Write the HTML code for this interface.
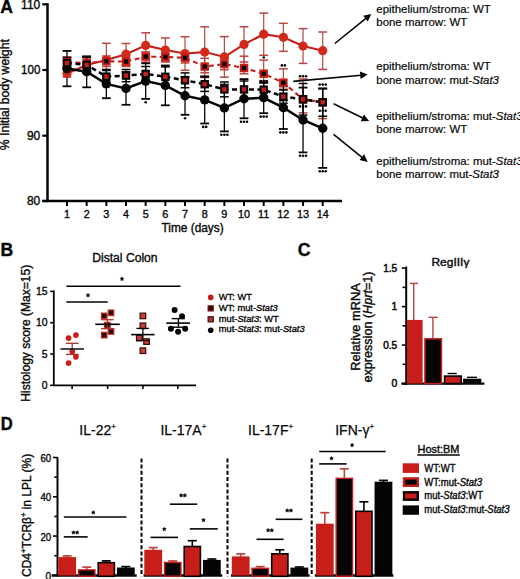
<!DOCTYPE html>
<html><head><meta charset="utf-8"><style>
html,body{margin:0;padding:0;background:#fff;}
svg{display:block;}
text{font-family:"Liberation Sans", sans-serif; stroke:#111; stroke-width:0.38px;}
.lt text{stroke-width:0.2px;}
</style></head><body>
<svg width="520" height="579" viewBox="0 0 520 579">
<rect width="520" height="579" fill="#fff"/>
<text x="0.3" y="12.8" font-size="17.6" text-anchor="start" font-weight="bold" fill="#050505" >A</text>
<line x1="47.5" y1="3.2" x2="47.5" y2="202" stroke="#050505" stroke-width="2.5" />
<line x1="42.3" y1="201" x2="342" y2="201" stroke="#050505" stroke-width="2.4" />
<line x1="42.3" y1="4.3" x2="47.5" y2="4.3" stroke="#050505" stroke-width="2.2" />
<text x="40.3" y="8.7" font-size="12.2" text-anchor="end" font-weight="normal" fill="#050505" textLength="19.2" lengthAdjust="spacingAndGlyphs" >110</text>
<line x1="42.3" y1="70" x2="47.5" y2="70" stroke="#050505" stroke-width="2.2" />
<text x="40.3" y="74.4" font-size="12.2" text-anchor="end" font-weight="normal" fill="#050505" textLength="19.2" lengthAdjust="spacingAndGlyphs" >100</text>
<line x1="42.3" y1="135.7" x2="47.5" y2="135.7" stroke="#050505" stroke-width="2.2" />
<text x="40.3" y="140.1" font-size="12.2" text-anchor="end" font-weight="normal" fill="#050505" textLength="13.4" lengthAdjust="spacingAndGlyphs" >90</text>
<line x1="42.3" y1="201" x2="47.5" y2="201" stroke="#050505" stroke-width="2.2" />
<text x="40.3" y="205.4" font-size="12.2" text-anchor="end" font-weight="normal" fill="#050505" textLength="13.4" lengthAdjust="spacingAndGlyphs" >80</text>
<line x1="67.0" y1="201" x2="67.0" y2="206" stroke="#050505" stroke-width="2" />
<text x="67.0" y="217.8" font-size="10.8" text-anchor="middle" font-weight="normal" fill="#050505" >1</text>
<line x1="86.67" y1="201" x2="86.67" y2="206" stroke="#050505" stroke-width="2" />
<text x="86.67" y="217.8" font-size="10.8" text-anchor="middle" font-weight="normal" fill="#050505" >2</text>
<line x1="106.34" y1="201" x2="106.34" y2="206" stroke="#050505" stroke-width="2" />
<text x="106.34" y="217.8" font-size="10.8" text-anchor="middle" font-weight="normal" fill="#050505" >3</text>
<line x1="126.01" y1="201" x2="126.01" y2="206" stroke="#050505" stroke-width="2" />
<text x="126.01" y="217.8" font-size="10.8" text-anchor="middle" font-weight="normal" fill="#050505" >4</text>
<line x1="145.68" y1="201" x2="145.68" y2="206" stroke="#050505" stroke-width="2" />
<text x="145.68" y="217.8" font-size="10.8" text-anchor="middle" font-weight="normal" fill="#050505" >5</text>
<line x1="165.35000000000002" y1="201" x2="165.35000000000002" y2="206" stroke="#050505" stroke-width="2" />
<text x="165.35000000000002" y="217.8" font-size="10.8" text-anchor="middle" font-weight="normal" fill="#050505" >6</text>
<line x1="185.02" y1="201" x2="185.02" y2="206" stroke="#050505" stroke-width="2" />
<text x="185.02" y="217.8" font-size="10.8" text-anchor="middle" font-weight="normal" fill="#050505" >7</text>
<line x1="204.69" y1="201" x2="204.69" y2="206" stroke="#050505" stroke-width="2" />
<text x="204.69" y="217.8" font-size="10.8" text-anchor="middle" font-weight="normal" fill="#050505" >8</text>
<line x1="224.36" y1="201" x2="224.36" y2="206" stroke="#050505" stroke-width="2" />
<text x="224.36" y="217.8" font-size="10.8" text-anchor="middle" font-weight="normal" fill="#050505" >9</text>
<line x1="244.03000000000003" y1="201" x2="244.03000000000003" y2="206" stroke="#050505" stroke-width="2" />
<text x="244.03000000000003" y="217.8" font-size="10.8" text-anchor="middle" font-weight="normal" fill="#050505" >10</text>
<line x1="263.70000000000005" y1="201" x2="263.70000000000005" y2="206" stroke="#050505" stroke-width="2" />
<text x="263.70000000000005" y="217.8" font-size="10.8" text-anchor="middle" font-weight="normal" fill="#050505" >11</text>
<line x1="283.37" y1="201" x2="283.37" y2="206" stroke="#050505" stroke-width="2" />
<text x="283.37" y="217.8" font-size="10.8" text-anchor="middle" font-weight="normal" fill="#050505" >12</text>
<line x1="303.04" y1="201" x2="303.04" y2="206" stroke="#050505" stroke-width="2" />
<text x="303.04" y="217.8" font-size="10.8" text-anchor="middle" font-weight="normal" fill="#050505" >13</text>
<line x1="322.71000000000004" y1="201" x2="322.71000000000004" y2="206" stroke="#050505" stroke-width="2" />
<text x="322.71000000000004" y="217.8" font-size="10.8" text-anchor="middle" font-weight="normal" fill="#050505" >14</text>
<text x="192.6" y="231.9" font-size="12.2" text-anchor="middle" font-weight="normal" fill="#050505" textLength="62.2" lengthAdjust="spacingAndGlyphs" >Time (days)</text>
<text transform="translate(9.4,94.7) rotate(-90)" font-size="12" text-anchor="middle" fill="#050505" textLength="111" lengthAdjust="spacingAndGlyphs">% Initial body weight</text>
<line x1="67.0" y1="70" x2="67.0" y2="77.0" stroke="#b8463f" stroke-width="1.2" />
<line x1="62.6" y1="70" x2="71.4" y2="70" stroke="#b8463f" stroke-width="1.5" />
<line x1="62.6" y1="77.0" x2="71.4" y2="77.0" stroke="#b8463f" stroke-width="1.5" />
<line x1="86.67" y1="57.2" x2="86.67" y2="72.8" stroke="#b8463f" stroke-width="1.2" />
<line x1="82.27" y1="57.2" x2="91.07000000000001" y2="57.2" stroke="#b8463f" stroke-width="1.5" />
<line x1="82.27" y1="72.8" x2="91.07000000000001" y2="72.8" stroke="#b8463f" stroke-width="1.5" />
<line x1="106.34" y1="43.3" x2="106.34" y2="76.7" stroke="#b8463f" stroke-width="1.2" />
<line x1="101.94" y1="43.3" x2="110.74000000000001" y2="43.3" stroke="#b8463f" stroke-width="1.5" />
<line x1="101.94" y1="76.7" x2="110.74000000000001" y2="76.7" stroke="#b8463f" stroke-width="1.5" />
<line x1="126.01" y1="43.5" x2="126.01" y2="64.9" stroke="#b8463f" stroke-width="1.2" />
<line x1="121.61" y1="43.5" x2="130.41" y2="43.5" stroke="#b8463f" stroke-width="1.5" />
<line x1="121.61" y1="64.9" x2="130.41" y2="64.9" stroke="#b8463f" stroke-width="1.5" />
<line x1="145.68" y1="32.8" x2="145.68" y2="58.0" stroke="#b8463f" stroke-width="1.2" />
<line x1="141.28" y1="32.8" x2="150.08" y2="32.8" stroke="#b8463f" stroke-width="1.5" />
<line x1="141.28" y1="58.0" x2="150.08" y2="58.0" stroke="#b8463f" stroke-width="1.5" />
<line x1="165.35000000000002" y1="38" x2="165.35000000000002" y2="62" stroke="#b8463f" stroke-width="1.2" />
<line x1="160.95000000000002" y1="38" x2="169.75000000000003" y2="38" stroke="#b8463f" stroke-width="1.5" />
<line x1="160.95000000000002" y1="62" x2="169.75000000000003" y2="62" stroke="#b8463f" stroke-width="1.5" />
<line x1="185.02" y1="36.7" x2="185.02" y2="70.3" stroke="#b8463f" stroke-width="1.2" />
<line x1="180.62" y1="36.7" x2="189.42000000000002" y2="36.7" stroke="#b8463f" stroke-width="1.5" />
<line x1="180.62" y1="70.3" x2="189.42000000000002" y2="70.3" stroke="#b8463f" stroke-width="1.5" />
<line x1="204.69" y1="26.8" x2="204.69" y2="77.4" stroke="#b8463f" stroke-width="1.2" />
<line x1="200.29" y1="26.8" x2="209.09" y2="26.8" stroke="#b8463f" stroke-width="1.5" />
<line x1="200.29" y1="77.4" x2="209.09" y2="77.4" stroke="#b8463f" stroke-width="1.5" />
<line x1="224.36" y1="36.6" x2="224.36" y2="77.19999999999999" stroke="#b8463f" stroke-width="1.2" />
<line x1="219.96" y1="36.6" x2="228.76000000000002" y2="36.6" stroke="#b8463f" stroke-width="1.5" />
<line x1="219.96" y1="77.19999999999999" x2="228.76000000000002" y2="77.19999999999999" stroke="#b8463f" stroke-width="1.5" />
<line x1="244.03000000000003" y1="26.8" x2="244.03000000000003" y2="62.0" stroke="#b8463f" stroke-width="1.2" />
<line x1="239.63000000000002" y1="26.8" x2="248.43000000000004" y2="26.8" stroke="#b8463f" stroke-width="1.5" />
<line x1="239.63000000000002" y1="62.0" x2="248.43000000000004" y2="62.0" stroke="#b8463f" stroke-width="1.5" />
<line x1="263.70000000000005" y1="13.1" x2="263.70000000000005" y2="55.300000000000004" stroke="#b8463f" stroke-width="1.2" />
<line x1="259.30000000000007" y1="13.1" x2="268.1" y2="13.1" stroke="#b8463f" stroke-width="1.5" />
<line x1="259.30000000000007" y1="55.300000000000004" x2="268.1" y2="55.300000000000004" stroke="#b8463f" stroke-width="1.5" />
<line x1="283.37" y1="23.3" x2="283.37" y2="51.3" stroke="#b8463f" stroke-width="1.2" />
<line x1="278.97" y1="23.3" x2="287.77" y2="23.3" stroke="#b8463f" stroke-width="1.5" />
<line x1="278.97" y1="51.3" x2="287.77" y2="51.3" stroke="#b8463f" stroke-width="1.5" />
<line x1="303.04" y1="28.6" x2="303.04" y2="63.4" stroke="#b8463f" stroke-width="1.2" />
<line x1="298.64000000000004" y1="28.6" x2="307.44" y2="28.6" stroke="#b8463f" stroke-width="1.5" />
<line x1="298.64000000000004" y1="63.4" x2="307.44" y2="63.4" stroke="#b8463f" stroke-width="1.5" />
<line x1="322.71000000000004" y1="32" x2="322.71000000000004" y2="69.4" stroke="#b8463f" stroke-width="1.2" />
<line x1="318.31000000000006" y1="32" x2="327.11" y2="32" stroke="#b8463f" stroke-width="1.5" />
<line x1="318.31000000000006" y1="69.4" x2="327.11" y2="69.4" stroke="#b8463f" stroke-width="1.5" />
<line x1="67.0" y1="57" x2="67.0" y2="67" stroke="#b8463f" stroke-width="1.2" />
<line x1="62.6" y1="57" x2="71.4" y2="57" stroke="#b8463f" stroke-width="1.5" />
<line x1="62.6" y1="67" x2="71.4" y2="67" stroke="#b8463f" stroke-width="1.5" />
<line x1="86.67" y1="58" x2="86.67" y2="68" stroke="#b8463f" stroke-width="1.2" />
<line x1="82.27" y1="58" x2="91.07000000000001" y2="58" stroke="#b8463f" stroke-width="1.5" />
<line x1="82.27" y1="68" x2="91.07000000000001" y2="68" stroke="#b8463f" stroke-width="1.5" />
<line x1="106.34" y1="56" x2="106.34" y2="66.5" stroke="#b8463f" stroke-width="1.2" />
<line x1="101.94" y1="56" x2="110.74000000000001" y2="56" stroke="#b8463f" stroke-width="1.5" />
<line x1="101.94" y1="66.5" x2="110.74000000000001" y2="66.5" stroke="#b8463f" stroke-width="1.5" />
<line x1="126.01" y1="57" x2="126.01" y2="66.5" stroke="#b8463f" stroke-width="1.2" />
<line x1="121.61" y1="57" x2="130.41" y2="57" stroke="#b8463f" stroke-width="1.5" />
<line x1="121.61" y1="66.5" x2="130.41" y2="66.5" stroke="#b8463f" stroke-width="1.5" />
<line x1="145.68" y1="51.8" x2="145.68" y2="62.1" stroke="#b8463f" stroke-width="1.2" />
<line x1="141.28" y1="51.8" x2="150.08" y2="51.8" stroke="#b8463f" stroke-width="1.5" />
<line x1="141.28" y1="62.1" x2="150.08" y2="62.1" stroke="#b8463f" stroke-width="1.5" />
<line x1="165.35000000000002" y1="53.5" x2="165.35000000000002" y2="61.3" stroke="#b8463f" stroke-width="1.2" />
<line x1="160.95000000000002" y1="53.5" x2="169.75000000000003" y2="53.5" stroke="#b8463f" stroke-width="1.5" />
<line x1="160.95000000000002" y1="61.3" x2="169.75000000000003" y2="61.3" stroke="#b8463f" stroke-width="1.5" />
<line x1="185.02" y1="53" x2="185.02" y2="63" stroke="#b8463f" stroke-width="1.2" />
<line x1="180.62" y1="53" x2="189.42000000000002" y2="53" stroke="#b8463f" stroke-width="1.5" />
<line x1="180.62" y1="63" x2="189.42000000000002" y2="63" stroke="#b8463f" stroke-width="1.5" />
<line x1="204.69" y1="58.3" x2="204.69" y2="72.8" stroke="#b8463f" stroke-width="1.2" />
<line x1="200.29" y1="58.3" x2="209.09" y2="58.3" stroke="#b8463f" stroke-width="1.5" />
<line x1="200.29" y1="72.8" x2="209.09" y2="72.8" stroke="#b8463f" stroke-width="1.5" />
<line x1="224.36" y1="58.5" x2="224.36" y2="69.7" stroke="#b8463f" stroke-width="1.2" />
<line x1="219.96" y1="58.5" x2="228.76000000000002" y2="58.5" stroke="#b8463f" stroke-width="1.5" />
<line x1="219.96" y1="69.7" x2="228.76000000000002" y2="69.7" stroke="#b8463f" stroke-width="1.5" />
<line x1="244.03000000000003" y1="56.2" x2="244.03000000000003" y2="73.8" stroke="#b8463f" stroke-width="1.2" />
<line x1="239.63000000000002" y1="56.2" x2="248.43000000000004" y2="56.2" stroke="#b8463f" stroke-width="1.5" />
<line x1="239.63000000000002" y1="73.8" x2="248.43000000000004" y2="73.8" stroke="#b8463f" stroke-width="1.5" />
<line x1="263.70000000000005" y1="60.1" x2="263.70000000000005" y2="81" stroke="#b8463f" stroke-width="1.2" />
<line x1="259.30000000000007" y1="60.1" x2="268.1" y2="60.1" stroke="#b8463f" stroke-width="1.5" />
<line x1="259.30000000000007" y1="81" x2="268.1" y2="81" stroke="#b8463f" stroke-width="1.5" />
<line x1="283.37" y1="68.8" x2="283.37" y2="89.2" stroke="#b8463f" stroke-width="1.2" />
<line x1="278.97" y1="68.8" x2="287.77" y2="68.8" stroke="#b8463f" stroke-width="1.5" />
<line x1="278.97" y1="89.2" x2="287.77" y2="89.2" stroke="#b8463f" stroke-width="1.5" />
<line x1="303.04" y1="79" x2="303.04" y2="112.9" stroke="#b8463f" stroke-width="1.2" />
<line x1="298.64000000000004" y1="79" x2="307.44" y2="79" stroke="#b8463f" stroke-width="1.5" />
<line x1="298.64000000000004" y1="112.9" x2="307.44" y2="112.9" stroke="#b8463f" stroke-width="1.5" />
<line x1="322.71000000000004" y1="88.4" x2="322.71000000000004" y2="118.6" stroke="#b8463f" stroke-width="1.2" />
<line x1="318.31000000000006" y1="88.4" x2="327.11" y2="88.4" stroke="#b8463f" stroke-width="1.5" />
<line x1="318.31000000000006" y1="118.6" x2="327.11" y2="118.6" stroke="#b8463f" stroke-width="1.5" />
<line x1="67.0" y1="57.4" x2="67.0" y2="68.6" stroke="#050505" stroke-width="1.2" />
<line x1="62.6" y1="57.4" x2="71.4" y2="57.4" stroke="#050505" stroke-width="1.5" />
<line x1="62.6" y1="68.6" x2="71.4" y2="68.6" stroke="#050505" stroke-width="1.5" />
<line x1="86.67" y1="57" x2="86.67" y2="72.80000000000001" stroke="#050505" stroke-width="1.2" />
<line x1="82.27" y1="57" x2="91.07000000000001" y2="57" stroke="#050505" stroke-width="1.5" />
<line x1="82.27" y1="72.80000000000001" x2="91.07000000000001" y2="72.80000000000001" stroke="#050505" stroke-width="1.5" />
<line x1="106.34" y1="70.5" x2="106.34" y2="82.69999999999999" stroke="#050505" stroke-width="1.2" />
<line x1="101.94" y1="70.5" x2="110.74000000000001" y2="70.5" stroke="#050505" stroke-width="1.5" />
<line x1="101.94" y1="82.69999999999999" x2="110.74000000000001" y2="82.69999999999999" stroke="#050505" stroke-width="1.5" />
<line x1="126.01" y1="69.5" x2="126.01" y2="81.69999999999999" stroke="#050505" stroke-width="1.2" />
<line x1="121.61" y1="69.5" x2="130.41" y2="69.5" stroke="#050505" stroke-width="1.5" />
<line x1="121.61" y1="81.69999999999999" x2="130.41" y2="81.69999999999999" stroke="#050505" stroke-width="1.5" />
<line x1="145.68" y1="66.5" x2="145.68" y2="81.30000000000001" stroke="#050505" stroke-width="1.2" />
<line x1="141.28" y1="66.5" x2="150.08" y2="66.5" stroke="#050505" stroke-width="1.5" />
<line x1="141.28" y1="81.30000000000001" x2="150.08" y2="81.30000000000001" stroke="#050505" stroke-width="1.5" />
<line x1="165.35000000000002" y1="66.9" x2="165.35000000000002" y2="86.69999999999999" stroke="#050505" stroke-width="1.2" />
<line x1="160.95000000000002" y1="66.9" x2="169.75000000000003" y2="66.9" stroke="#050505" stroke-width="1.5" />
<line x1="160.95000000000002" y1="86.69999999999999" x2="169.75000000000003" y2="86.69999999999999" stroke="#050505" stroke-width="1.5" />
<line x1="185.02" y1="72.9" x2="185.02" y2="87.69999999999999" stroke="#050505" stroke-width="1.2" />
<line x1="180.62" y1="72.9" x2="189.42000000000002" y2="72.9" stroke="#050505" stroke-width="1.5" />
<line x1="180.62" y1="87.69999999999999" x2="189.42000000000002" y2="87.69999999999999" stroke="#050505" stroke-width="1.5" />
<line x1="204.69" y1="77" x2="204.69" y2="91.4" stroke="#050505" stroke-width="1.2" />
<line x1="200.29" y1="77" x2="209.09" y2="77" stroke="#050505" stroke-width="1.5" />
<line x1="200.29" y1="91.4" x2="209.09" y2="91.4" stroke="#050505" stroke-width="1.5" />
<line x1="224.36" y1="82" x2="224.36" y2="96.80000000000001" stroke="#050505" stroke-width="1.2" />
<line x1="219.96" y1="82" x2="228.76000000000002" y2="82" stroke="#050505" stroke-width="1.5" />
<line x1="219.96" y1="96.80000000000001" x2="228.76000000000002" y2="96.80000000000001" stroke="#050505" stroke-width="1.5" />
<line x1="244.03000000000003" y1="81" x2="244.03000000000003" y2="97.80000000000001" stroke="#050505" stroke-width="1.2" />
<line x1="239.63000000000002" y1="81" x2="248.43000000000004" y2="81" stroke="#050505" stroke-width="1.5" />
<line x1="239.63000000000002" y1="97.80000000000001" x2="248.43000000000004" y2="97.80000000000001" stroke="#050505" stroke-width="1.5" />
<line x1="263.70000000000005" y1="83" x2="263.70000000000005" y2="96.4" stroke="#050505" stroke-width="1.2" />
<line x1="259.30000000000007" y1="83" x2="268.1" y2="83" stroke="#050505" stroke-width="1.5" />
<line x1="259.30000000000007" y1="96.4" x2="268.1" y2="96.4" stroke="#050505" stroke-width="1.5" />
<line x1="283.37" y1="90" x2="283.37" y2="103.19999999999999" stroke="#050505" stroke-width="1.2" />
<line x1="278.97" y1="90" x2="287.77" y2="90" stroke="#050505" stroke-width="1.5" />
<line x1="278.97" y1="103.19999999999999" x2="287.77" y2="103.19999999999999" stroke="#050505" stroke-width="1.5" />
<line x1="303.04" y1="83.5" x2="303.04" y2="115.1" stroke="#050505" stroke-width="1.2" />
<line x1="298.64000000000004" y1="83.5" x2="307.44" y2="83.5" stroke="#050505" stroke-width="1.5" />
<line x1="298.64000000000004" y1="115.1" x2="307.44" y2="115.1" stroke="#050505" stroke-width="1.5" />
<line x1="322.71000000000004" y1="88.4" x2="322.71000000000004" y2="116.19999999999999" stroke="#050505" stroke-width="1.2" />
<line x1="318.31000000000006" y1="88.4" x2="327.11" y2="88.4" stroke="#050505" stroke-width="1.5" />
<line x1="318.31000000000006" y1="116.19999999999999" x2="327.11" y2="116.19999999999999" stroke="#050505" stroke-width="1.5" />
<line x1="67.0" y1="50.89999999999999" x2="67.0" y2="86.3" stroke="#050505" stroke-width="1.3" />
<line x1="62.6" y1="50.89999999999999" x2="71.4" y2="50.89999999999999" stroke="#050505" stroke-width="1.8" />
<line x1="62.6" y1="86.3" x2="71.4" y2="86.3" stroke="#050505" stroke-width="1.8" />
<line x1="86.67" y1="56.3" x2="86.67" y2="87.3" stroke="#050505" stroke-width="1.3" />
<line x1="82.27" y1="56.3" x2="91.07000000000001" y2="56.3" stroke="#050505" stroke-width="1.8" />
<line x1="82.27" y1="87.3" x2="91.07000000000001" y2="87.3" stroke="#050505" stroke-width="1.8" />
<line x1="106.34" y1="69.60000000000001" x2="106.34" y2="98.2" stroke="#050505" stroke-width="1.3" />
<line x1="101.94" y1="69.60000000000001" x2="110.74000000000001" y2="69.60000000000001" stroke="#050505" stroke-width="1.8" />
<line x1="101.94" y1="98.2" x2="110.74000000000001" y2="98.2" stroke="#050505" stroke-width="1.8" />
<line x1="126.01" y1="72.00000000000001" x2="126.01" y2="104.8" stroke="#050505" stroke-width="1.3" />
<line x1="121.61" y1="72.00000000000001" x2="130.41" y2="72.00000000000001" stroke="#050505" stroke-width="1.8" />
<line x1="121.61" y1="104.8" x2="130.41" y2="104.8" stroke="#050505" stroke-width="1.8" />
<line x1="145.68" y1="63.29999999999998" x2="145.68" y2="98.9" stroke="#050505" stroke-width="1.3" />
<line x1="141.28" y1="63.29999999999998" x2="150.08" y2="63.29999999999998" stroke="#050505" stroke-width="1.8" />
<line x1="141.28" y1="98.9" x2="150.08" y2="98.9" stroke="#050505" stroke-width="1.8" />
<line x1="165.35000000000002" y1="65.50000000000001" x2="165.35000000000002" y2="105.3" stroke="#050505" stroke-width="1.3" />
<line x1="160.95000000000002" y1="65.50000000000001" x2="169.75000000000003" y2="65.50000000000001" stroke="#050505" stroke-width="1.8" />
<line x1="160.95000000000002" y1="105.3" x2="169.75000000000003" y2="105.3" stroke="#050505" stroke-width="1.8" />
<line x1="185.02" y1="76.8" x2="185.02" y2="114.8" stroke="#050505" stroke-width="1.3" />
<line x1="180.62" y1="76.8" x2="189.42000000000002" y2="76.8" stroke="#050505" stroke-width="1.8" />
<line x1="180.62" y1="114.8" x2="189.42000000000002" y2="114.8" stroke="#050505" stroke-width="1.8" />
<line x1="204.69" y1="76.30000000000001" x2="204.69" y2="123.5" stroke="#050505" stroke-width="1.3" />
<line x1="200.29" y1="76.30000000000001" x2="209.09" y2="76.30000000000001" stroke="#050505" stroke-width="1.8" />
<line x1="200.29" y1="123.5" x2="209.09" y2="123.5" stroke="#050505" stroke-width="1.8" />
<line x1="224.36" y1="84.6" x2="224.36" y2="131.4" stroke="#050505" stroke-width="1.3" />
<line x1="219.96" y1="84.6" x2="228.76000000000002" y2="84.6" stroke="#050505" stroke-width="1.8" />
<line x1="219.96" y1="131.4" x2="228.76000000000002" y2="131.4" stroke="#050505" stroke-width="1.8" />
<line x1="244.03000000000003" y1="79.10000000000001" x2="244.03000000000003" y2="118.3" stroke="#050505" stroke-width="1.3" />
<line x1="239.63000000000002" y1="79.10000000000001" x2="248.43000000000004" y2="79.10000000000001" stroke="#050505" stroke-width="1.8" />
<line x1="239.63000000000002" y1="118.3" x2="248.43000000000004" y2="118.3" stroke="#050505" stroke-width="1.8" />
<line x1="263.70000000000005" y1="82.39999999999999" x2="263.70000000000005" y2="113.2" stroke="#050505" stroke-width="1.3" />
<line x1="259.30000000000007" y1="82.39999999999999" x2="268.1" y2="82.39999999999999" stroke="#050505" stroke-width="1.8" />
<line x1="259.30000000000007" y1="113.2" x2="268.1" y2="113.2" stroke="#050505" stroke-width="1.8" />
<line x1="283.37" y1="86.4" x2="283.37" y2="129" stroke="#050505" stroke-width="1.3" />
<line x1="278.97" y1="86.4" x2="287.77" y2="86.4" stroke="#050505" stroke-width="1.8" />
<line x1="278.97" y1="129" x2="287.77" y2="129" stroke="#050505" stroke-width="1.8" />
<line x1="303.04" y1="87.6" x2="303.04" y2="152.4" stroke="#050505" stroke-width="1.3" />
<line x1="298.64000000000004" y1="87.6" x2="307.44" y2="87.6" stroke="#050505" stroke-width="1.8" />
<line x1="298.64000000000004" y1="152.4" x2="307.44" y2="152.4" stroke="#050505" stroke-width="1.8" />
<line x1="322.71000000000004" y1="88.70000000000002" x2="322.71000000000004" y2="167.9" stroke="#050505" stroke-width="1.3" />
<line x1="318.31000000000006" y1="88.70000000000002" x2="327.11" y2="88.70000000000002" stroke="#050505" stroke-width="1.8" />
<line x1="318.31000000000006" y1="167.9" x2="327.11" y2="167.9" stroke="#050505" stroke-width="1.8" />
<polyline points="67.0,73.5 86.7,65.0 106.3,60.0 126.0,54.2 145.7,45.4 165.4,50.0 185.0,53.5 204.7,52.1 224.4,56.9 244.0,44.4 263.7,34.2 283.4,37.3 303.0,46.0 322.7,50.7" fill="none" stroke="#c42018" stroke-width="2.1"/>
<polyline points="67.0,62.0 86.7,63.0 106.3,61.3 126.0,61.6 145.7,56.6 165.4,57.0 185.0,57.8 204.7,66.6 224.4,64.1 244.0,68.0 263.7,73.7 283.4,82.7 303.0,99.3 322.7,102.3" fill="none" stroke="#c42018" stroke-width="2.1" stroke-dasharray="5,3.5"/>
<polyline points="67.0,68.6 86.7,71.8 106.3,83.9 126.0,88.4 145.7,81.1 165.4,85.4 185.0,95.8 204.7,99.9 224.4,108.0 244.0,98.7 263.7,97.8 283.4,107.7 303.0,120.0 322.7,128.3" fill="none" stroke="#050505" stroke-width="2.5"/>
<polyline points="67.0,63.0 86.7,64.9 106.3,76.6 126.0,75.6 145.7,73.9 165.4,76.8 185.0,80.3 204.7,84.2 224.4,89.4 244.0,89.4 263.7,89.7 283.4,96.6 303.0,99.3 322.7,102.3" fill="none" stroke="#050505" stroke-width="2.5" stroke-dasharray="5,3.5"/>
<circle cx="67.0" cy="73.5" r="4.6" fill="#d02a1a"/>
<circle cx="86.67" cy="65" r="4.6" fill="#d02a1a"/>
<circle cx="106.34" cy="60" r="4.6" fill="#d02a1a"/>
<circle cx="126.01" cy="54.2" r="4.6" fill="#d02a1a"/>
<circle cx="145.68" cy="45.4" r="4.6" fill="#d02a1a"/>
<circle cx="165.35000000000002" cy="50" r="4.6" fill="#d02a1a"/>
<circle cx="185.02" cy="53.5" r="4.6" fill="#d02a1a"/>
<circle cx="204.69" cy="52.1" r="4.6" fill="#d02a1a"/>
<circle cx="224.36" cy="56.9" r="4.6" fill="#d02a1a"/>
<circle cx="244.03000000000003" cy="44.4" r="4.6" fill="#d02a1a"/>
<circle cx="263.70000000000005" cy="34.2" r="4.6" fill="#d02a1a"/>
<circle cx="283.37" cy="37.3" r="4.6" fill="#d02a1a"/>
<circle cx="303.04" cy="46" r="4.6" fill="#d02a1a"/>
<circle cx="322.71000000000004" cy="50.7" r="4.6" fill="#d02a1a"/>
<rect x="63.8" y="58.8" width="6.4" height="6.4" fill="#050505" stroke="#c81e1a" stroke-width="2.1"/>
<rect x="83.47" y="59.8" width="6.4" height="6.4" fill="#050505" stroke="#c81e1a" stroke-width="2.1"/>
<rect x="103.14" y="58.099999999999994" width="6.4" height="6.4" fill="#050505" stroke="#c81e1a" stroke-width="2.1"/>
<rect x="122.81" y="58.4" width="6.4" height="6.4" fill="#050505" stroke="#c81e1a" stroke-width="2.1"/>
<rect x="142.48000000000002" y="53.4" width="6.4" height="6.4" fill="#050505" stroke="#c81e1a" stroke-width="2.1"/>
<rect x="162.15000000000003" y="53.8" width="6.4" height="6.4" fill="#050505" stroke="#c81e1a" stroke-width="2.1"/>
<rect x="181.82000000000002" y="54.599999999999994" width="6.4" height="6.4" fill="#050505" stroke="#c81e1a" stroke-width="2.1"/>
<rect x="201.49" y="63.39999999999999" width="6.4" height="6.4" fill="#050505" stroke="#c81e1a" stroke-width="2.1"/>
<rect x="221.16000000000003" y="60.89999999999999" width="6.4" height="6.4" fill="#050505" stroke="#c81e1a" stroke-width="2.1"/>
<rect x="240.83000000000004" y="64.8" width="6.4" height="6.4" fill="#050505" stroke="#c81e1a" stroke-width="2.1"/>
<rect x="260.50000000000006" y="70.5" width="6.4" height="6.4" fill="#050505" stroke="#c81e1a" stroke-width="2.1"/>
<rect x="280.17" y="79.5" width="6.4" height="6.4" fill="#050505" stroke="#c81e1a" stroke-width="2.1"/>
<rect x="299.84000000000003" y="96.1" width="6.4" height="6.4" fill="#050505" stroke="#c81e1a" stroke-width="2.1"/>
<rect x="319.51000000000005" y="99.1" width="6.4" height="6.4" fill="#050505" stroke="#c81e1a" stroke-width="2.1"/>
<circle cx="67.0" cy="68.6" r="4.7" fill="#050505"/>
<circle cx="86.67" cy="71.8" r="4.7" fill="#050505"/>
<circle cx="106.34" cy="83.9" r="4.7" fill="#050505"/>
<circle cx="126.01" cy="88.4" r="4.7" fill="#050505"/>
<circle cx="145.68" cy="81.1" r="4.7" fill="#050505"/>
<circle cx="165.35000000000002" cy="85.4" r="4.7" fill="#050505"/>
<circle cx="185.02" cy="95.8" r="4.7" fill="#050505"/>
<circle cx="204.69" cy="99.9" r="4.7" fill="#050505"/>
<circle cx="224.36" cy="108" r="4.7" fill="#050505"/>
<circle cx="244.03000000000003" cy="98.7" r="4.7" fill="#050505"/>
<circle cx="263.70000000000005" cy="97.8" r="4.7" fill="#050505"/>
<circle cx="283.37" cy="107.7" r="4.7" fill="#050505"/>
<circle cx="303.04" cy="120" r="4.7" fill="#050505"/>
<circle cx="322.71000000000004" cy="128.3" r="4.7" fill="#050505"/>
<rect x="63.8" y="59.8" width="6.4" height="6.4" fill="#c81e1a" stroke="#050505" stroke-width="2.0"/>
<rect x="83.47" y="61.7" width="6.4" height="6.4" fill="#c81e1a" stroke="#050505" stroke-width="2.0"/>
<rect x="103.14" y="73.39999999999999" width="6.4" height="6.4" fill="#c81e1a" stroke="#050505" stroke-width="2.0"/>
<rect x="122.81" y="72.39999999999999" width="6.4" height="6.4" fill="#c81e1a" stroke="#050505" stroke-width="2.0"/>
<rect x="142.48000000000002" y="70.7" width="6.4" height="6.4" fill="#c81e1a" stroke="#050505" stroke-width="2.0"/>
<rect x="162.15000000000003" y="73.6" width="6.4" height="6.4" fill="#c81e1a" stroke="#050505" stroke-width="2.0"/>
<rect x="181.82000000000002" y="77.1" width="6.4" height="6.4" fill="#c81e1a" stroke="#050505" stroke-width="2.0"/>
<rect x="201.49" y="81.0" width="6.4" height="6.4" fill="#c81e1a" stroke="#050505" stroke-width="2.0"/>
<rect x="221.16000000000003" y="86.2" width="6.4" height="6.4" fill="#c81e1a" stroke="#050505" stroke-width="2.0"/>
<rect x="240.83000000000004" y="86.2" width="6.4" height="6.4" fill="#c81e1a" stroke="#050505" stroke-width="2.0"/>
<rect x="260.50000000000006" y="86.5" width="6.4" height="6.4" fill="#c81e1a" stroke="#050505" stroke-width="2.0"/>
<rect x="280.17" y="93.39999999999999" width="6.4" height="6.4" fill="#c81e1a" stroke="#050505" stroke-width="2.0"/>
<rect x="299.84000000000003" y="96.1" width="6.4" height="6.4" fill="#c81e1a" stroke="#050505" stroke-width="2.0"/>
<rect x="319.51000000000005" y="99.1" width="6.4" height="6.4" fill="#c81e1a" stroke="#050505" stroke-width="2.0"/>
<circle cx="145.68" cy="102.30" r="1.3" fill="#050505"/>
<circle cx="185.02" cy="118.20" r="1.3" fill="#050505"/>
<circle cx="203.19" cy="126.90" r="1.3" fill="#050505"/>
<circle cx="206.19" cy="126.90" r="1.3" fill="#050505"/>
<circle cx="221.36" cy="134.80" r="1.3" fill="#050505"/>
<circle cx="224.36" cy="134.80" r="1.3" fill="#050505"/>
<circle cx="227.36" cy="134.80" r="1.3" fill="#050505"/>
<circle cx="241.03" cy="121.70" r="1.3" fill="#050505"/>
<circle cx="244.03" cy="121.70" r="1.3" fill="#050505"/>
<circle cx="247.03" cy="121.70" r="1.3" fill="#050505"/>
<circle cx="260.70" cy="116.60" r="1.3" fill="#050505"/>
<circle cx="263.70" cy="116.60" r="1.3" fill="#050505"/>
<circle cx="266.70" cy="116.60" r="1.3" fill="#050505"/>
<circle cx="280.37" cy="132.40" r="1.3" fill="#050505"/>
<circle cx="283.37" cy="132.40" r="1.3" fill="#050505"/>
<circle cx="286.37" cy="132.40" r="1.3" fill="#050505"/>
<circle cx="300.04" cy="155.80" r="1.3" fill="#050505"/>
<circle cx="303.04" cy="155.80" r="1.3" fill="#050505"/>
<circle cx="306.04" cy="155.80" r="1.3" fill="#050505"/>
<circle cx="319.71" cy="171.30" r="1.3" fill="#050505"/>
<circle cx="322.71" cy="171.30" r="1.3" fill="#050505"/>
<circle cx="325.71" cy="171.30" r="1.3" fill="#050505"/>
<circle cx="263.70" cy="57.50" r="1.3" fill="#050505"/>
<circle cx="281.87" cy="65.40" r="1.3" fill="#050505"/>
<circle cx="284.87" cy="65.40" r="1.3" fill="#050505"/>
<circle cx="300.04" cy="76.20" r="1.3" fill="#050505"/>
<circle cx="303.04" cy="76.20" r="1.3" fill="#050505"/>
<circle cx="306.04" cy="76.20" r="1.3" fill="#050505"/>
<circle cx="319.71" cy="84.60" r="1.3" fill="#050505"/>
<circle cx="322.71" cy="84.60" r="1.3" fill="#050505"/>
<circle cx="325.71" cy="84.60" r="1.3" fill="#050505"/>
<circle cx="260.70" cy="81.00" r="1.3" fill="#050505"/>
<circle cx="263.70" cy="81.00" r="1.3" fill="#050505"/>
<circle cx="266.70" cy="81.00" r="1.3" fill="#050505"/>
<circle cx="280.37" cy="100.50" r="1.3" fill="#050505"/>
<circle cx="283.37" cy="100.50" r="1.3" fill="#050505"/>
<circle cx="286.37" cy="100.50" r="1.3" fill="#050505"/>
<circle cx="300.04" cy="106.40" r="1.3" fill="#050505"/>
<circle cx="303.04" cy="106.40" r="1.3" fill="#050505"/>
<circle cx="306.04" cy="106.40" r="1.3" fill="#050505"/>
<circle cx="319.71" cy="110.80" r="1.3" fill="#050505"/>
<circle cx="322.71" cy="110.80" r="1.3" fill="#050505"/>
<circle cx="325.71" cy="110.80" r="1.3" fill="#050505"/>
<line x1="334.8" y1="43.5" x2="366.244684527258" y2="18.085802916325704" stroke="#050505" stroke-width="1.6" />
<polygon points="371.3,14 367.79,21.59 363.14,15.84" fill="#050505"/>
<line x1="293.3" y1="81.4" x2="361.2269801740461" y2="75.19162009161944" stroke="#050505" stroke-width="1.6" />
<polygon points="367.7,74.6 360.57,78.97 359.89,71.60" fill="#050505"/>
<line x1="333.6" y1="103.8" x2="363.25689822966666" y2="118.25251660206291" stroke="#050505" stroke-width="1.6" />
<polygon points="369.1,121.1 360.74,121.14 363.98,114.49" fill="#050505"/>
<line x1="333.6" y1="134.3" x2="362.6475633159048" y2="157.81063775715464" stroke="#050505" stroke-width="1.6" />
<polygon points="367.7,161.9 359.54,160.06 364.20,154.31" fill="#050505"/>
<g transform="translate(376.3,0) scale(1.04,1) translate(-376.3,0)" class="lt">
<text x="376.3" y="13" font-size="11" text-anchor="start" font-weight="normal" fill="#050505" >epithelium/stroma: WT</text>
<text x="376.3" y="26.4" font-size="11" text-anchor="start" font-weight="normal" fill="#050505" >bone marrow: WT</text>
</g>
<g transform="translate(376.3,0) scale(1.04,1) translate(-376.3,0)" class="lt">
<text x="376.3" y="70.2" font-size="11" text-anchor="start" font-weight="normal" fill="#050505" >epithelium/stroma: WT</text>
<text x="376.3" y="83.60000000000001" font-size="11" text-anchor="start" font-weight="normal" fill="#050505" >bone marrow: mut-<tspan font-style="italic">Stat3</tspan></text>
</g>
<g transform="translate(376.3,0) scale(1.04,1) translate(-376.3,0)" class="lt">
<text x="376.3" y="119.6" font-size="11" text-anchor="start" font-weight="normal" fill="#050505" >epithelium/stroma: mut-<tspan font-style="italic">Stat3</tspan></text>
<text x="376.3" y="133.0" font-size="11" text-anchor="start" font-weight="normal" fill="#050505" >bone marrow: WT</text>
</g>
<g transform="translate(376.3,0) scale(1.04,1) translate(-376.3,0)" class="lt">
<text x="376.3" y="164.9" font-size="11" text-anchor="start" font-weight="normal" fill="#050505" >epithelium/stroma: mut-<tspan font-style="italic">Stat3</tspan></text>
<text x="376.3" y="178.3" font-size="11" text-anchor="start" font-weight="normal" fill="#050505" >bone marrow: mut-<tspan font-style="italic">Stat3</tspan></text>
</g>
<text x="0.6" y="255.9" font-size="17.6" text-anchor="start" font-weight="bold" fill="#050505" >B</text>
<text x="124.9" y="262.2" font-size="12" text-anchor="middle" font-weight="normal" fill="#050505" textLength="65.4" lengthAdjust="spacingAndGlyphs" >Distal Colon</text>
<line x1="53.8" y1="290.4" x2="53.8" y2="386" stroke="#050505" stroke-width="1.8" />
<line x1="53" y1="385.3" x2="196" y2="385.3" stroke="#050505" stroke-width="1.8" />
<line x1="50.2" y1="385.3" x2="53.8" y2="385.3" stroke="#050505" stroke-width="1.6" />
<text x="47.6" y="389.0" font-size="10.4" text-anchor="end" font-weight="normal" fill="#050505" >0</text>
<line x1="50.2" y1="354.0" x2="53.8" y2="354.0" stroke="#050505" stroke-width="1.6" />
<text x="47.6" y="357.7" font-size="10.4" text-anchor="end" font-weight="normal" fill="#050505" >5</text>
<line x1="50.2" y1="322.70000000000005" x2="53.8" y2="322.70000000000005" stroke="#050505" stroke-width="1.6" />
<text x="47.6" y="326.40000000000003" font-size="10.4" text-anchor="end" font-weight="normal" fill="#050505" >10</text>
<line x1="50.2" y1="291.40000000000003" x2="53.8" y2="291.40000000000003" stroke="#050505" stroke-width="1.6" />
<text x="47.6" y="295.1" font-size="10.4" text-anchor="end" font-weight="normal" fill="#050505" >15</text>
<line x1="72.1" y1="385.3" x2="72.1" y2="389" stroke="#050505" stroke-width="1.6" />
<line x1="107.6" y1="385.3" x2="107.6" y2="389" stroke="#050505" stroke-width="1.6" />
<line x1="142.9" y1="385.3" x2="142.9" y2="389" stroke="#050505" stroke-width="1.6" />
<line x1="177.8" y1="385.3" x2="177.8" y2="389" stroke="#050505" stroke-width="1.6" />
<text transform="translate(30.2,333.2) rotate(-90)" font-size="12" text-anchor="middle" fill="#050505" textLength="137" lengthAdjust="spacingAndGlyphs">Histology score (Max=15)</text>
<line x1="66.3" y1="286.3" x2="180.5" y2="286.3" stroke="#050505" stroke-width="1.4" />
<polygon points="122.00,276.95 122.62,278.05 123.85,278.30 123.00,279.22 123.15,280.48 122.00,279.95 120.85,280.48 121.00,279.22 120.15,278.30 121.38,278.05" fill="#050505" stroke="#050505" stroke-width="0.5"/>
<line x1="66.3" y1="302" x2="107.7" y2="302" stroke="#050505" stroke-width="1.4" />
<polygon points="88.00,293.35 88.62,294.45 89.85,294.70 89.00,295.62 89.15,296.88 88.00,296.35 86.85,296.88 87.00,295.62 86.15,294.70 87.38,294.45" fill="#050505" stroke="#050505" stroke-width="0.5"/>
<circle cx="68.6" cy="338.1" r="2.85" fill="#c81e1a"/>
<circle cx="75.9" cy="335.1" r="2.85" fill="#c81e1a"/>
<circle cx="72.3" cy="351.4" r="2.85" fill="#c81e1a"/>
<circle cx="75.9" cy="356.8" r="2.85" fill="#c81e1a"/>
<circle cx="68.6" cy="363.1" r="2.85" fill="#c81e1a"/>
<line x1="65.9" y1="343.3" x2="78.6" y2="343.3" stroke="#a83028" stroke-width="1.3" />
<line x1="65.9" y1="354.4" x2="78.6" y2="354.4" stroke="#a83028" stroke-width="1.3" />
<line x1="72.2" y1="343.3" x2="72.2" y2="354.4" stroke="#a83028" stroke-width="1.3" />
<line x1="60.4" y1="349" x2="84" y2="349" stroke="#1a1a2a" stroke-width="1.6" />
<rect x="108.2" y="310.0" width="5.6" height="5.6" fill="#2a0806" stroke="#c0302a" stroke-width="1.2"/>
<rect x="101.4" y="313.09999999999997" width="5.6" height="5.6" fill="#2a0806" stroke="#c0302a" stroke-width="1.2"/>
<rect x="104.5" y="322.4" width="5.6" height="5.6" fill="#2a0806" stroke="#c0302a" stroke-width="1.2"/>
<rect x="108.2" y="328.7" width="5.6" height="5.6" fill="#2a0806" stroke="#c0302a" stroke-width="1.2"/>
<rect x="101.4" y="332.3" width="5.6" height="5.6" fill="#2a0806" stroke="#c0302a" stroke-width="1.2"/>
<line x1="101.1" y1="319.7" x2="113.6" y2="319.7" stroke="#b03028" stroke-width="1.3" />
<line x1="101.1" y1="328.7" x2="113.6" y2="328.7" stroke="#b03028" stroke-width="1.3" />
<line x1="107.4" y1="319.7" x2="107.4" y2="328.7" stroke="#b03028" stroke-width="1.3" />
<line x1="95.3" y1="324.3" x2="119.8" y2="324.3" stroke="#050505" stroke-width="1.6" />
<rect x="140.1" y="313.09999999999997" width="5.6" height="5.6" fill="#c84038" stroke="#3a0a0a" stroke-width="1.2"/>
<rect x="140.1" y="323.0" width="5.6" height="5.6" fill="#c84038" stroke="#3a0a0a" stroke-width="1.2"/>
<rect x="136.5" y="335.2" width="5.6" height="5.6" fill="#c84038" stroke="#3a0a0a" stroke-width="1.2"/>
<rect x="143.79999999999998" y="338.8" width="5.6" height="5.6" fill="#c84038" stroke="#3a0a0a" stroke-width="1.2"/>
<rect x="140.1" y="347.9" width="5.6" height="5.6" fill="#c84038" stroke="#3a0a0a" stroke-width="1.2"/>
<line x1="136.4" y1="328.4" x2="148.9" y2="328.4" stroke="#050505" stroke-width="1.3" />
<line x1="136.4" y1="340.5" x2="148.9" y2="340.5" stroke="#050505" stroke-width="1.3" />
<line x1="142.9" y1="328.4" x2="142.9" y2="340.5" stroke="#050505" stroke-width="1.3" />
<line x1="131.2" y1="334.6" x2="154.6" y2="334.6" stroke="#050505" stroke-width="1.6" />
<circle cx="174.6" cy="309.9" r="3.0" fill="#050505"/>
<circle cx="182" cy="316.2" r="3.0" fill="#050505"/>
<circle cx="170.9" cy="328.7" r="3.0" fill="#050505"/>
<circle cx="185.2" cy="328.7" r="3.0" fill="#050505"/>
<circle cx="178.1" cy="331.8" r="3.0" fill="#050505"/>
<line x1="171.7" y1="318.6" x2="184.9" y2="318.6" stroke="#050505" stroke-width="1.4" />
<line x1="171.7" y1="327.2" x2="184.9" y2="327.2" stroke="#050505" stroke-width="1.4" />
<line x1="178.4" y1="318.6" x2="178.4" y2="327.2" stroke="#050505" stroke-width="1.4" />
<line x1="166.2" y1="323.1" x2="189.9" y2="323.1" stroke="#050505" stroke-width="1.6" />
<circle cx="210.7" cy="297.4" r="2.8" fill="#c81e1a"/>
<rect x="208.1" y="305.79999999999995" width="5.2" height="5.2" fill="#3a0606" stroke="#7a1410" stroke-width="1.1"/>
<rect x="208.1" y="316.7" width="5.2" height="5.2" fill="#b03430" stroke="#3a0a0a" stroke-width="1.1"/>
<circle cx="210.7" cy="330.3" r="2.8" fill="#050505"/>
<g transform="translate(218.8,0) scale(0.95,1) translate(-218.8,0)">
<text x="218.8" y="299.9" font-size="9.8" text-anchor="start" font-weight="normal" fill="#050505" >WT: WT</text>
<text x="218.8" y="310.8" font-size="9.8" text-anchor="start" font-weight="normal" fill="#050505" >WT: mut-<tspan font-style="italic">Stat3</tspan></text>
<text x="218.8" y="321.7" font-size="9.8" text-anchor="start" font-weight="normal" fill="#050505" >mut-<tspan font-style="italic">Stat3</tspan>: WT</text>
<text x="218.8" y="332.2" font-size="9.8" text-anchor="start" font-weight="normal" fill="#050505" >mut-<tspan font-style="italic">Stat3</tspan>: mut-<tspan font-style="italic">Stat3</tspan></text>
</g>
<text x="297.8" y="256" font-size="17.6" text-anchor="start" font-weight="bold" fill="#050505" >C</text>
<text x="431.4" y="266.2" font-size="10.4" text-anchor="start" font-weight="normal" fill="#050505" textLength="38" lengthAdjust="spacingAndGlyphs" >RegIII&#947;</text>
<line x1="406.2" y1="266.6" x2="406.2" y2="385" stroke="#050505" stroke-width="2" />
<line x1="401.5" y1="383.6" x2="484.4" y2="383.6" stroke="#050505" stroke-width="2.2" />
<line x1="401.8" y1="383.6" x2="406.2" y2="383.6" stroke="#050505" stroke-width="1.6" />
<line x1="402.5" y1="364.35" x2="406.2" y2="364.35" stroke="#050505" stroke-width="1.6" />
<line x1="401.8" y1="345.1" x2="406.2" y2="345.1" stroke="#050505" stroke-width="1.6" />
<line x1="402.5" y1="325.85" x2="406.2" y2="325.85" stroke="#050505" stroke-width="1.6" />
<line x1="401.8" y1="306.6" x2="406.2" y2="306.6" stroke="#050505" stroke-width="1.6" />
<line x1="402.5" y1="287.35" x2="406.2" y2="287.35" stroke="#050505" stroke-width="1.6" />
<line x1="401.8" y1="268.1" x2="406.2" y2="268.1" stroke="#050505" stroke-width="1.6" />
<text x="397.2" y="387.3" font-size="10.2" text-anchor="end" font-weight="normal" fill="#050505" textLength="5.8" lengthAdjust="spacingAndGlyphs" style="stroke-width:0.5px">0</text>
<text x="397.2" y="348.8" font-size="10.2" text-anchor="end" font-weight="normal" fill="#050505" textLength="14.0" lengthAdjust="spacingAndGlyphs" style="stroke-width:0.5px">0.5</text>
<text x="397.2" y="310.3" font-size="10.2" text-anchor="end" font-weight="normal" fill="#050505" textLength="5.8" lengthAdjust="spacingAndGlyphs" style="stroke-width:0.5px">1</text>
<text x="397.2" y="271.8" font-size="10.2" text-anchor="end" font-weight="normal" fill="#050505" textLength="14.0" lengthAdjust="spacingAndGlyphs" style="stroke-width:0.5px">1.5</text>
<text transform="translate(360.1,327) rotate(-90)" font-size="12" text-anchor="middle" fill="#050505" textLength="87.5" lengthAdjust="spacingAndGlyphs">Relative mRNA</text>
<text transform="translate(372.3,327) rotate(-90)" font-size="12" text-anchor="middle" fill="#050505" textLength="111" lengthAdjust="spacingAndGlyphs">expression (<tspan font-style="italic">Hprt</tspan>=1)</text>
<line x1="413.7" y1="283.4" x2="413.7" y2="320" stroke="#b8463f" stroke-width="1.4" />
<line x1="409.8" y1="283.4" x2="418.1" y2="283.4" stroke="#b8463f" stroke-width="1.4" />
<rect x="407" y="319.9" width="15.6" height="63.7" fill="#c81e1a"/>
<line x1="432.9" y1="317.3" x2="432.9" y2="338.5" stroke="#b8463f" stroke-width="1.4" />
<line x1="428.5" y1="317.3" x2="437.7" y2="317.3" stroke="#b8463f" stroke-width="1.4" />
<rect x="424.9" y="338.8" width="16.6" height="44.8" fill="#050505" stroke="#c81e1a" stroke-width="1.4"/>
<line x1="447.6" y1="373.5" x2="456.7" y2="373.5" stroke="#050505" stroke-width="1.4" />
<rect x="444.6" y="376.1" width="16.6" height="7.5" fill="#c81e1a" stroke="#050505" stroke-width="1.6"/>
<line x1="467" y1="377.3" x2="477" y2="377.3" stroke="#050505" stroke-width="1.4" />
<rect x="463.1" y="378.7" width="18.2" height="5" fill="#050505"/>
<text x="0.7" y="430.3" font-size="18" text-anchor="start" font-weight="bold" fill="#050505" textLength="12" lengthAdjust="spacingAndGlyphs" >D</text>
<line x1="57.5" y1="457.3" x2="57.5" y2="576.5" stroke="#050505" stroke-width="2" />
<line x1="51.7" y1="575.5" x2="136.7" y2="575.5" stroke="#050505" stroke-width="2.4" />
<line x1="143.6" y1="575.5" x2="222.3" y2="575.5" stroke="#050505" stroke-width="2.4" />
<line x1="231" y1="575.5" x2="309.6" y2="575.5" stroke="#050505" stroke-width="2.4" />
<line x1="314.8" y1="575.5" x2="393.4" y2="575.5" stroke="#050505" stroke-width="2.4" />
<line x1="53" y1="575.3" x2="57.5" y2="575.3" stroke="#050505" stroke-width="1.6" />
<line x1="54.3" y1="555.67" x2="57.5" y2="555.67" stroke="#050505" stroke-width="1.6" />
<line x1="53" y1="536.04" x2="57.5" y2="536.04" stroke="#050505" stroke-width="1.6" />
<line x1="54.3" y1="516.41" x2="57.5" y2="516.41" stroke="#050505" stroke-width="1.6" />
<line x1="53" y1="496.78" x2="57.5" y2="496.78" stroke="#050505" stroke-width="1.6" />
<line x1="54.3" y1="477.15" x2="57.5" y2="477.15" stroke="#050505" stroke-width="1.6" />
<line x1="53" y1="457.52" x2="57.5" y2="457.52" stroke="#050505" stroke-width="1.6" />
<text x="51.2" y="579.8" font-size="10.8" text-anchor="end" font-weight="normal" fill="#050505" textLength="5.6" lengthAdjust="spacingAndGlyphs" >0</text>
<text x="51.2" y="540.54" font-size="10.8" text-anchor="end" font-weight="normal" fill="#050505" textLength="10.8" lengthAdjust="spacingAndGlyphs" >20</text>
<text x="51.2" y="501.28" font-size="10.8" text-anchor="end" font-weight="normal" fill="#050505" textLength="10.8" lengthAdjust="spacingAndGlyphs" >40</text>
<text x="51.2" y="462.02" font-size="10.8" text-anchor="end" font-weight="normal" fill="#050505" textLength="10.8" lengthAdjust="spacingAndGlyphs" >60</text>
<text transform="translate(30.5,577) rotate(-90)" font-size="12" fill="#050505">CD4<tspan font-size="7.5" dy="-4.5">+</tspan><tspan dy="4.5">TCR&#946;</tspan><tspan font-size="7.5" dy="-4.5">+</tspan><tspan dy="4.5"> in LPL (%)</tspan></text>
<text x="79.3" y="434.7" font-size="14" fill="#050505" style="stroke-width:0.25px">IL-22<tspan font-size="8" dy="-5.5">+</tspan></text>
<text x="160.4" y="434.7" font-size="14" fill="#050505" style="stroke-width:0.25px">IL-17A<tspan font-size="8" dy="-5.5">+</tspan></text>
<text x="248" y="434.7" font-size="14" fill="#050505" style="stroke-width:0.25px">IL-17F<tspan font-size="8" dy="-5.5">+</tspan></text>
<text x="335.2" y="434.7" font-size="14" fill="#050505" style="stroke-width:0.25px">IFN-&#947;<tspan font-size="8" dy="-5.5">+</tspan></text>
<line x1="141.5" y1="458.4" x2="141.5" y2="576.5" stroke="#050505" stroke-width="2" stroke-dasharray="4,2.2"/>
<line x1="227.5" y1="458.4" x2="227.5" y2="576.5" stroke="#050505" stroke-width="2" stroke-dasharray="4,2.2"/>
<line x1="311.7" y1="458.4" x2="311.7" y2="576.5" stroke="#050505" stroke-width="2" stroke-dasharray="4,2.2"/>
<line x1="67.2" y1="555.9" x2="67.2" y2="558.1" stroke="#b8463f" stroke-width="1.6" />
<line x1="62.7" y1="555.9" x2="71.7" y2="555.9" stroke="#b8463f" stroke-width="1.7" />
<rect x="58.3" y="557.1" width="17.8" height="18.399999999999977" fill="#c81e1a"/>
<line x1="86.75" y1="567.1" x2="86.75" y2="570.2" stroke="#b8463f" stroke-width="1.6" />
<line x1="82.25" y1="567.1" x2="91.25" y2="567.1" stroke="#b8463f" stroke-width="1.7" />
<rect x="78.55" y="569.9000000000001" width="16.400000000000002" height="6.2999999999999545" fill="#050505" stroke="#c81e1a" stroke-width="1.4"/>
<line x1="106.30000000000001" y1="560.9" x2="106.30000000000001" y2="562.9" stroke="#050505" stroke-width="1.6" />
<line x1="101.80000000000001" y1="560.9" x2="110.80000000000001" y2="560.9" stroke="#050505" stroke-width="1.7" />
<rect x="98.2" y="562.6999999999999" width="16.2" height="13.600000000000023" fill="#c81e1a" stroke="#050505" stroke-width="1.6"/>
<line x1="125.85000000000001" y1="566.6" x2="125.85000000000001" y2="568.5" stroke="#050505" stroke-width="1.6" />
<line x1="121.35000000000001" y1="566.6" x2="130.35000000000002" y2="566.6" stroke="#050505" stroke-width="1.7" />
<rect x="116.95" y="567.5" width="17.8" height="8.0" fill="#050505"/>
<line x1="153.20000000000002" y1="547.6" x2="153.20000000000002" y2="550.8" stroke="#b8463f" stroke-width="1.6" />
<line x1="148.70000000000002" y1="547.6" x2="157.70000000000002" y2="547.6" stroke="#b8463f" stroke-width="1.7" />
<rect x="144.3" y="549.8" width="17.8" height="25.700000000000045" fill="#c81e1a"/>
<line x1="172.75000000000003" y1="561" x2="172.75000000000003" y2="562.8" stroke="#b8463f" stroke-width="1.6" />
<line x1="168.25000000000003" y1="561" x2="177.25000000000003" y2="561" stroke="#b8463f" stroke-width="1.7" />
<rect x="164.55" y="562.5" width="16.400000000000002" height="13.700000000000045" fill="#050505" stroke="#c81e1a" stroke-width="1.4"/>
<line x1="192.3" y1="540.7" x2="192.3" y2="546.7" stroke="#050505" stroke-width="1.6" />
<line x1="187.8" y1="540.7" x2="196.8" y2="540.7" stroke="#050505" stroke-width="1.7" />
<rect x="184.20000000000002" y="546.5" width="16.2" height="29.799999999999955" fill="#c81e1a" stroke="#050505" stroke-width="1.6"/>
<line x1="211.85000000000002" y1="559" x2="211.85000000000002" y2="560.9" stroke="#050505" stroke-width="1.6" />
<line x1="207.35000000000002" y1="559" x2="216.35000000000002" y2="559" stroke="#050505" stroke-width="1.7" />
<rect x="202.95000000000002" y="559.9" width="17.8" height="15.600000000000023" fill="#050505"/>
<line x1="240.70000000000002" y1="553.9" x2="240.70000000000002" y2="557.4" stroke="#b8463f" stroke-width="1.6" />
<line x1="236.20000000000002" y1="553.9" x2="245.20000000000002" y2="553.9" stroke="#b8463f" stroke-width="1.7" />
<rect x="231.8" y="556.4" width="17.8" height="19.100000000000023" fill="#c81e1a"/>
<line x1="260.25" y1="566.6" x2="260.25" y2="568.6" stroke="#b8463f" stroke-width="1.6" />
<line x1="255.75" y1="566.6" x2="264.75" y2="566.6" stroke="#b8463f" stroke-width="1.7" />
<rect x="252.05" y="568.3000000000001" width="16.400000000000002" height="7.899999999999977" fill="#050505" stroke="#c81e1a" stroke-width="1.4"/>
<line x1="279.8" y1="549.8" x2="279.8" y2="554" stroke="#050505" stroke-width="1.6" />
<line x1="275.3" y1="549.8" x2="284.3" y2="549.8" stroke="#050505" stroke-width="1.7" />
<rect x="271.70000000000005" y="553.8" width="16.2" height="22.5" fill="#c81e1a" stroke="#050505" stroke-width="1.6"/>
<line x1="299.35" y1="567" x2="299.35" y2="568.6" stroke="#050505" stroke-width="1.6" />
<line x1="294.85" y1="567" x2="303.85" y2="567" stroke="#050505" stroke-width="1.7" />
<rect x="290.45000000000005" y="567.6" width="17.8" height="7.899999999999977" fill="#050505"/>
<line x1="324.79999999999995" y1="512.7" x2="324.79999999999995" y2="524.7" stroke="#b8463f" stroke-width="1.6" />
<line x1="320.29999999999995" y1="512.7" x2="329.29999999999995" y2="512.7" stroke="#b8463f" stroke-width="1.7" />
<rect x="315.9" y="523.7" width="17.8" height="51.799999999999955" fill="#c81e1a"/>
<line x1="344.34999999999997" y1="468.8" x2="344.34999999999997" y2="478.6" stroke="#b8463f" stroke-width="1.6" />
<line x1="339.84999999999997" y1="468.8" x2="348.84999999999997" y2="468.8" stroke="#b8463f" stroke-width="1.7" />
<rect x="336.15" y="478.3" width="16.400000000000002" height="97.89999999999998" fill="#050505" stroke="#c81e1a" stroke-width="1.4"/>
<line x1="363.9" y1="501.8" x2="363.9" y2="511.5" stroke="#050505" stroke-width="1.6" />
<line x1="359.4" y1="501.8" x2="368.4" y2="501.8" stroke="#050505" stroke-width="1.7" />
<rect x="355.8" y="511.3" width="16.2" height="65.0" fill="#c81e1a" stroke="#050505" stroke-width="1.6"/>
<line x1="383.44999999999993" y1="480.4" x2="383.44999999999993" y2="482.7" stroke="#050505" stroke-width="1.6" />
<line x1="378.94999999999993" y1="480.4" x2="387.94999999999993" y2="480.4" stroke="#050505" stroke-width="1.7" />
<rect x="374.54999999999995" y="481.7" width="17.8" height="93.80000000000001" fill="#050505"/>
<line x1="63.8" y1="517" x2="126.5" y2="517" stroke="#050505" stroke-width="1.6" />
<polygon points="93.30,510.55 93.92,511.65 95.15,511.90 94.30,512.82 94.45,514.08 93.30,513.55 92.15,514.08 92.30,512.82 91.45,511.90 92.68,511.65" fill="#050505" stroke="#050505" stroke-width="0.5"/>
<line x1="63.8" y1="536.9" x2="87.7" y2="536.9" stroke="#050505" stroke-width="1.6" />
<polygon points="73.45,530.55 74.07,531.65 75.30,531.90 74.45,532.82 74.60,534.08 73.45,533.55 72.30,534.08 72.45,532.82 71.60,531.90 72.83,531.65" fill="#050505" stroke="#050505" stroke-width="0.5"/>
<polygon points="77.15,530.55 77.77,531.65 79.00,531.90 78.15,532.82 78.30,534.08 77.15,533.55 76.00,534.08 76.15,532.82 75.30,531.90 76.53,531.65" fill="#050505" stroke="#050505" stroke-width="0.5"/>
<line x1="150.6" y1="537.4" x2="178" y2="537.4" stroke="#050505" stroke-width="1.6" />
<polygon points="164.30,527.25 164.92,528.35 166.15,528.60 165.30,529.52 165.45,530.78 164.30,530.25 163.15,530.78 163.30,529.52 162.45,528.60 163.68,528.35" fill="#050505" stroke="#050505" stroke-width="0.5"/>
<line x1="169.8" y1="504.2" x2="197.2" y2="504.2" stroke="#050505" stroke-width="1.6" />
<polygon points="181.15,493.45 181.77,494.55 183.00,494.80 182.15,495.72 182.30,496.98 181.15,496.45 180.00,496.98 180.15,495.72 179.30,494.80 180.53,494.55" fill="#050505" stroke="#050505" stroke-width="0.5"/>
<polygon points="184.85,493.45 185.47,494.55 186.70,494.80 185.85,495.72 186.00,496.98 184.85,496.45 183.70,496.98 183.85,495.72 183.00,494.80 184.23,494.55" fill="#050505" stroke="#050505" stroke-width="0.5"/>
<line x1="189.8" y1="528.9" x2="217.8" y2="528.9" stroke="#050505" stroke-width="1.6" />
<polygon points="203.50,518.15 204.12,519.25 205.35,519.50 204.50,520.42 204.65,521.68 203.50,521.15 202.35,521.68 202.50,520.42 201.65,519.50 202.88,519.25" fill="#050505" stroke="#050505" stroke-width="0.5"/>
<line x1="256.5" y1="539.3" x2="283.6" y2="539.3" stroke="#050505" stroke-width="1.6" />
<polygon points="268.15,528.35 268.77,529.45 270.00,529.70 269.15,530.62 269.30,531.88 268.15,531.35 267.00,531.88 267.15,530.62 266.30,529.70 267.53,529.45" fill="#050505" stroke="#050505" stroke-width="0.5"/>
<polygon points="271.85,528.35 272.47,529.45 273.70,529.70 272.85,530.62 273.00,531.88 271.85,531.35 270.70,531.88 270.85,530.62 270.00,529.70 271.23,529.45" fill="#050505" stroke="#050505" stroke-width="0.5"/>
<line x1="275.7" y1="519.3" x2="302.3" y2="519.3" stroke="#050505" stroke-width="1.6" />
<polygon points="287.25,508.55 287.87,509.65 289.10,509.90 288.25,510.82 288.40,512.08 287.25,511.55 286.10,512.08 286.25,510.82 285.40,509.90 286.63,509.65" fill="#050505" stroke="#050505" stroke-width="0.5"/>
<polygon points="290.95,508.55 291.57,509.65 292.80,509.90 291.95,510.82 292.10,512.08 290.95,511.55 289.80,512.08 289.95,510.82 289.10,509.90 290.33,509.65" fill="#050505" stroke="#050505" stroke-width="0.5"/>
<line x1="319.2" y1="451.5" x2="385.6" y2="451.5" stroke="#050505" stroke-width="1.6" />
<polygon points="352.10,443.25 352.72,444.35 353.95,444.60 353.10,445.52 353.25,446.78 352.10,446.25 350.95,446.78 351.10,445.52 350.25,444.60 351.48,444.35" fill="#050505" stroke="#050505" stroke-width="0.5"/>
<line x1="319.2" y1="463.9" x2="346.6" y2="463.9" stroke="#050505" stroke-width="1.6" />
<polygon points="331.50,456.45 332.12,457.55 333.35,457.80 332.50,458.72 332.65,459.98 331.50,459.45 330.35,459.98 330.50,458.72 329.65,457.80 330.88,457.55" fill="#050505" stroke="#050505" stroke-width="0.5"/>
<text x="417.5" y="452.9" font-size="10.8" fill="#050505" textLength="42" lengthAdjust="spacingAndGlyphs">Host:BM</text>
<line x1="417.3" y1="455" x2="459.8" y2="455" stroke="#050505" stroke-width="1.3" />
<rect x="402.7" y="463.3" width="16.3" height="9.6" fill="#c81e1a"/>
<rect x="404" y="478.4" width="13.8" height="7.4" fill="#050505" stroke="#c81e1a" stroke-width="2.4"/>
<rect x="404" y="492.3" width="13.8" height="7.4" fill="#c81e1a" stroke="#050505" stroke-width="2.4"/>
<rect x="402.7" y="505.4" width="16.3" height="9.4" fill="#050505"/>
<g transform="translate(424.6,0) scale(0.935,1) translate(-424.6,0)">
<text x="424.3" y="471.9" font-size="10.2" text-anchor="start" font-weight="normal" fill="#050505" >WT:WT</text>
<text x="424.3" y="485.6" font-size="10.2" text-anchor="start" font-weight="normal" fill="#050505" >WT:mut-<tspan font-style="italic">Stat3</tspan></text>
<text x="424.3" y="499.3" font-size="10.2" text-anchor="start" font-weight="normal" fill="#050505" >mut-<tspan font-style="italic">Stat3</tspan>:WT</text>
<text x="424.3" y="512.6" font-size="10.2" text-anchor="start" font-weight="normal" fill="#050505" >mut-<tspan font-style="italic">Stat3</tspan>:mut-<tspan font-style="italic">Stat3</tspan></text>
</g>
</svg>
</body></html>
